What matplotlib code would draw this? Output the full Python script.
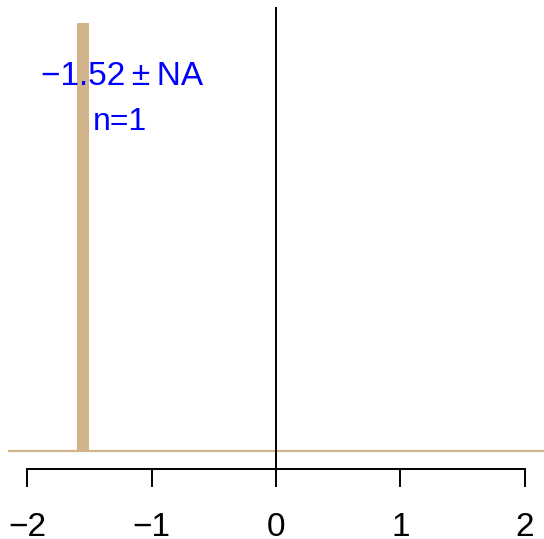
import numpy as np
import matplotlib.pyplot as plt

plt.rcParams['font.family'] = ['Liberation Sans', 'DejaVu Sans']

# Data
bar_pos = [-1.55]
bar_height = [1.0]
mean_label = "\u22121.52\u2009\u00b1\u2009NA"
n_label = "n=1"
ticks = [-2, -1, 0, 1, 2]
tick_labels = ["\u22122", "\u22121", "0", "1", "2"]

fig = plt.figure(figsize=(5.44, 5.39), dpi=100)
ax = fig.add_axes([8 / 544, 70 / 539, 536 / 544, 462 / 539])

tan = '#D2B48C'
ax.axhline(0, color=tan, lw=1.6, zorder=1)
ax.bar(bar_pos, bar_height, width=0.09, color=tan, zorder=2)
ax.text(-1.235, 0.855, mean_label, color='blue', fontsize=24, ha='center', va='baseline', zorder=4)
ax.text(-1.25, 0.75, n_label, color='blue', fontsize=23, ha='center', va='baseline', zorder=4)
ax.axvline(0, color='black', lw=1.4, zorder=3)

ax.set_xlim(-2.153, 2.153)
ax.set_ylim(-0.043, 1.038)

for s in ['top', 'right', 'left']:
    ax.spines[s].set_visible(False)
ax.spines['bottom'].set_bounds(-2, 2)
ax.spines['bottom'].set_linewidth(1.4)
ax.set_xticks(ticks)
ax.set_xticklabels(tick_labels, fontsize=24)
ax.tick_params(axis='x', length=13, width=1.4, pad=18)
ax.set_yticks([])
ax.patch.set_alpha(0)

fig.savefig('out.png', dpi=100)
